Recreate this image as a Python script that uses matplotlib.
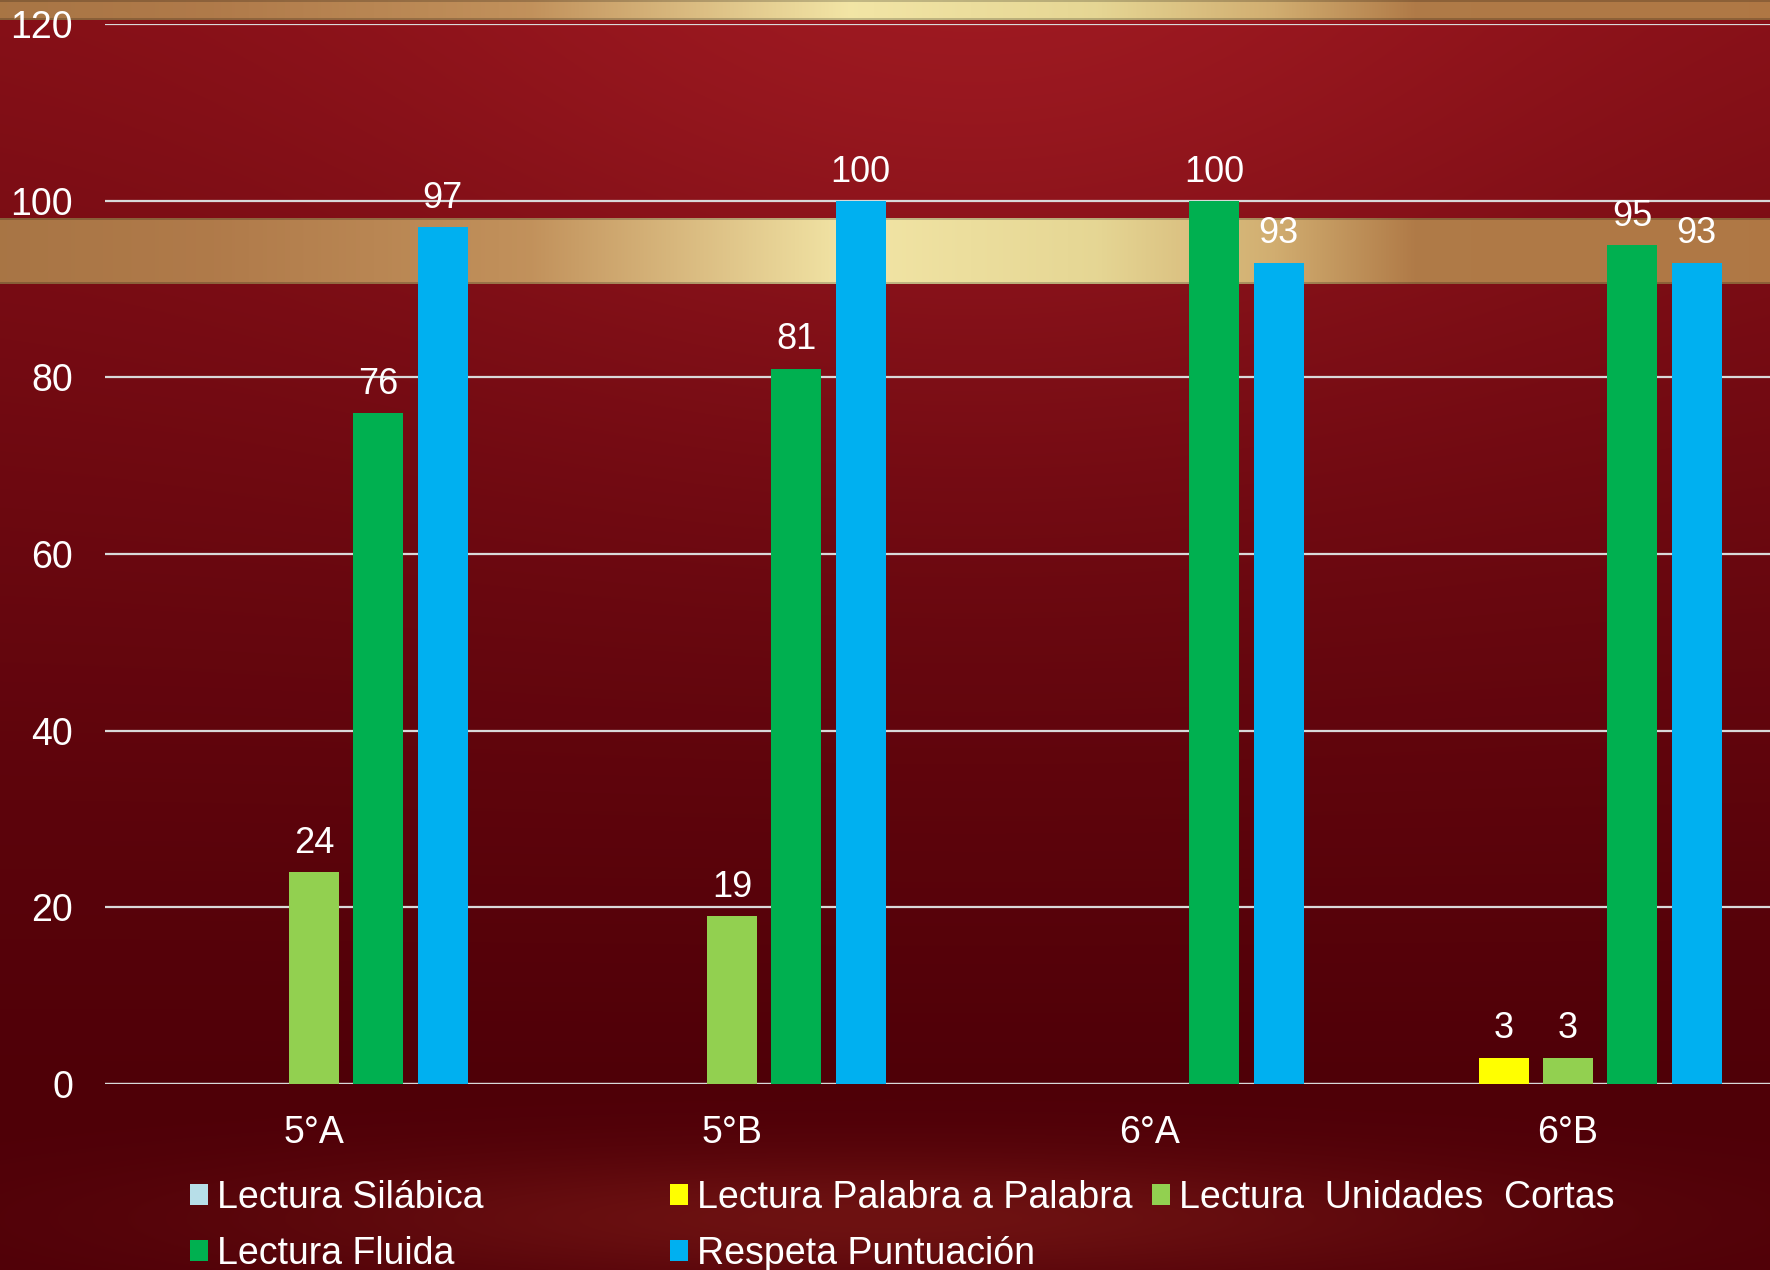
import numpy as np
import matplotlib
matplotlib.use("Agg")
from matplotlib import pyplot as plt

plt.rcParams['font.family'] = ['Liberation Sans', 'DejaVu Sans']

grupos = ['5°A', '5°B', '6°A', '6°B']
series = ['Lectura Silábica', 'Lectura Palabra a Palabra', 'Lectura  Unidades  Cortas',
          'Lectura Fluida', 'Respeta Puntuación']
silabica = [0, 0, 0, 0]
palabra = [0, 0, 0, 3]
unidades = [24, 19, 0, 3]
fluida = [76, 81, 100, 95]
puntuacion = [97, 100, 93, 93]
valores = [silabica, palabra, unidades, fluida, puntuacion]
colores = ['#b7dee8', '#ffff00', '#92d050', '#00b050', '#00b0f0']

W, H = 1770, 1270
fig = plt.figure(figsize=(W / 100, H / 100), dpi=100)

# background: red gradient with gold bands (slide template)
yy = np.linspace(0, 1, H)[:, None]
xx = np.linspace(0, 1, W)[None, :]
top = np.array([0.52, 0.06, 0.09])
bot = np.array([0.31, 0.0, 0.03])
t = np.clip(yy / 0.85, 0, 1)[..., None]
bg = top * (1 - t) + bot * t
glow = np.exp(-((xx - 0.55) / 0.35) ** 2) * np.exp(-(yy / 0.35) ** 2)
bg = bg + glow[..., None] * np.array([0.10, 0.04, 0.04])
streak = np.exp(-((yy - 0.96) / 0.05) ** 2) * np.exp(-((xx - 0.5) / 0.35) ** 2)
bg = bg + streak[..., None] * np.array([0.12, 0.07, 0.04])
bg = np.broadcast_to(bg, (H, W, 3)).copy()

gx = [0.0, 0.12, 0.30, 0.48, 0.62, 0.72, 0.80, 1.0]
gr = [0.66, 0.69, 0.76, 0.95, 0.90, 0.82, 0.69, 0.69]
gg = [0.46, 0.48, 0.57, 0.90, 0.84, 0.68, 0.48, 0.47]
gb = [0.27, 0.29, 0.36, 0.65, 0.58, 0.44, 0.28, 0.27]
xs = np.linspace(0, 1, W)
gold = np.stack([np.interp(xs, gx, gr), np.interp(xs, gx, gg), np.interp(xs, gx, gb)], axis=1)
for y0, y1 in [(0, 20), (218, 284)]:
    bg[y0:y1, :, :] = gold[None, :, :]
    bg[y0:y0 + 2, :, :] *= 0.8
    bg[y1 - 2:y1, :, :] *= 0.8
bg = np.clip(bg, 0, 1)

axbg = fig.add_axes([0, 0, 1, 1], zorder=-1)
axbg.imshow(bg, aspect='auto', extent=[0, 1, 0, 1], interpolation='bilinear')
axbg.axis('off')

ax = fig.add_axes([105 / W, 186 / H, 1672 / W, 1060 / H])
ax.patch.set_alpha(0)

x = np.arange(len(grupos))
ancho = 0.12
paso = 0.154
barras = []
for i, (nombre, vals, col) in enumerate(zip(series, valores, colores)):
    b = ax.bar(x + (i - 2) * paso, vals, ancho, color=col, label=nombre, zorder=3)
    barras.append(b)
    etiquetas = [str(v) if v > 0 else '' for v in vals]
    ax.bar_label(b, labels=etiquetas, padding=8, color='white', fontsize=26)

ax.set_xlim(-0.5, 3.5)
ax.set_ylim(0, 120)
ax.set_yticks(range(0, 121, 20))
ax.set_xticks(x)
ax.set_xticklabels(grupos)
ax.tick_params(axis='both', length=0, labelsize=27, labelcolor='white')
ax.tick_params(axis='y', pad=23)
ax.tick_params(axis='x', pad=22)
ax.grid(axis='y', color='#d9d9d9', linewidth=1.6, zorder=0)
ax.set_axisbelow(True)
for s in ax.spines.values():
    s.set_visible(False)
ax.axhline(0, color='#d9d9d9', linewidth=1.6, zorder=2)

# legend laid out in rows like the original
cols = [[0, 3], [1, 4], [2]]
xpos = [190, 670, 1152]
for idx, xp in zip(cols, xpos):
    fig.legend([barras[k] for k in idx], [series[k] for k in idx],
               loc='upper left', bbox_to_anchor=(xp / W, 1 - 1180 / H),
               frameon=False, fontsize=27, labelcolor='white',
               handlelength=0.48, handleheight=0.48, handletextpad=0.25,
               borderpad=0, borderaxespad=0, labelspacing=0.54)

fig.savefig('out.png', dpi=100)
